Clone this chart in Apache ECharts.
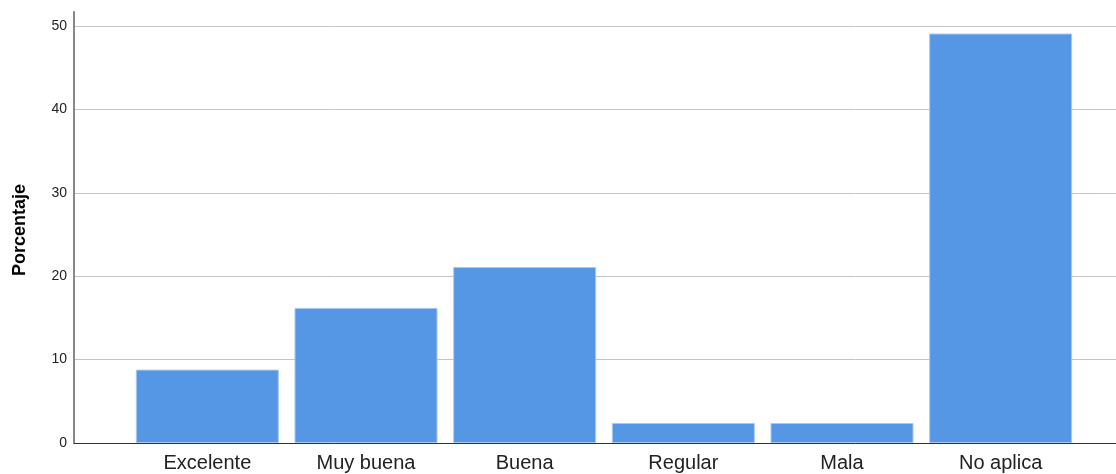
<!DOCTYPE html>
<html><head><meta charset="utf-8">
<script src="https://cdn.jsdelivr.net/npm/echarts@6/dist/echarts.min.js"></script>
<style>html,body{margin:0;padding:0;background:#fff}#c{width:1116px;height:474px}</style>
</head><body><div id="c"></div>
<script>
const categories = ['Excelente', 'Muy buena', 'Buena', 'Regular', 'Mala', 'No aplica'];
const values = [8.8, 16.2, 21.1, 2.4, 2.4, 49.1];
const yTicks = [0, 10, 20, 30, 40, 50];
const yTitle = 'Porcentaje';

const chart = echarts.init(document.getElementById('c'));
const font = 'Liberation Sans, Arial, sans-serif';
chart.setOption({
  animation: false,
  grid: [
    {left: 74, right: 0, top: 26, bottom: 31},
    {left: 128, right: 36, top: 26, bottom: 31},
    {left: 74, width: 10, top: 12, bottom: 31}
  ],
  xAxis: [
    {gridIndex: 0, type: 'value', min: 0, max: 1,
     axisLine: {show: true, lineStyle: {color: '#333', width: 1}},
     axisTick: {show: false}, axisLabel: {show: false}, splitLine: {show: false}},
    {gridIndex: 1, type: 'category', data: categories,
     axisLine: {show: false}, axisTick: {show: false},
     axisLabel: {color: '#222', fontSize: 20, fontFamily: font, margin: 10}},
    {gridIndex: 2, type: 'value', show: false}
  ],
  yAxis: [
    {gridIndex: 0, type: 'value', min: yTicks[0], max: yTicks[yTicks.length - 1], interval: 10,
     axisLine: {show: false},
     axisTick: {show: false},
     axisLabel: {color: '#222', fontSize: 14, fontFamily: font, margin: 7},
     splitLine: {show: true, lineStyle: {color: '#c4c4c4', width: 1}}},
    {gridIndex: 1, type: 'value', min: yTicks[0], max: yTicks[yTicks.length - 1], show: false},
    {gridIndex: 2, type: 'value', min: 0, max: 1,
     axisLine: {show: true, lineStyle: {color: '#888', width: 2}},
     axisTick: {show: false}, axisLabel: {show: false}, splitLine: {show: false}}
  ],
  graphic: [{
    type: 'text', x: 20, y: 230, rotation: Math.PI / 2,
    style: {text: yTitle, fill: '#000', font: 'bold 18px ' + font,
            textAlign: 'center', textVerticalAlign: 'middle'}
  }],
  series: [{
    type: 'bar', xAxisIndex: 1, yAxisIndex: 1, data: values,
    barWidth: 143,
    itemStyle: {color: '#5596e5', borderColor: '#a9c9f1', borderWidth: 1},
    silent: true
  }]
});
</script></body></html>
